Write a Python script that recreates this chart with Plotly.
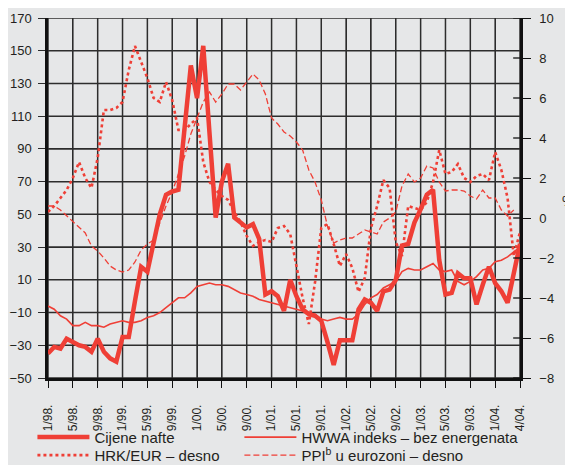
import plotly.graph_objects as go

# month index 0 = 1/98 ... 76 = 4/04 (as laid out on the axis)
months = list(range(77))

tick_vals = list(range(0, 77, 4))
tick_text = ["1/98.", "5/98.", "9/98.", "1/99.", "5/99.", "9/99.", "1/00.", "5/00.", "9/00.",
             "1/01.", "5/01.", "9/01.", "1/02.", "5/02.", "9/02.", "1/03.", "5/03.", "9/03.",
             "1/04.", "4/04."]

cijene_nafte = [-35, -31, -32, -26, -28, -30, -31, -34, -26, -34, -38, -40, -25, -25, -3, 18,
                15, 32, 50, 62, 64, 65, 100, 141, 121, 153, 100, 48, 70, 81, 48, 45,
                42, 44, 35, 1, 3, 0, -9, 10, 0, -8, -11, -12, -15, -28, -42, -27,
                -27, -27, -8, -2, -4, -9, 3, 4, 10, 31, 32, 45, 53, 62, 65, 22,
                1, 2, 14, 11, 11, -5, 7, 18, 8, 3, -4, 15, 32]

hwwa = [-6, -8, -12, -14, -18, -18, -16, -18, -18, -19, -17, -16, -15, -16, -16, -15,
        -13, -12, -10, -7, -4, -1, -1, 2, 6, 7, 8, 7, 7, 6, 4, 2,
        1, 0, -2, -3, -4, -5, -6, -7, -8, -9, -10, -11, -14, -15, -14, -13,
        -14, -14, -11, -5, -1, 1, 5, 7, 9, 15, 17, 16, 16, 18, 20, 16,
        15, 16, 9, 7, 9, 12, 16, 17, 21, 22, 24, 27, 30]

hrk_eur = [0.3, 0.6, 1.0, 1.4, 2.0, 2.8, 2.0, 1.5, 3.0, 5.4, 5.4, 5.5, 5.8, 7.4, 8.6, 7.8,
           7.0, 6.0, 5.8, 6.8, 5.9, 4.4, 4.4, 4.7, 5.0, 2.8, 1.8, 1.4, 1.1, 0.9, 0.3, -0.2,
           -0.9, -1.4, -1.2, -1.1, -1.2, -0.5, -0.4, -0.8, -2.4, -4.0, -5.3, -3.2, -0.5, -0.3, -1.3, -2.4,
           -1.8, -2.5, -3.7, -3.0, -0.5, 0.6, 1.9, 1.5, -1.2, -1.9, 0.6, 0.5, 0.4, 0.8, 1.8, 3.4,
           2.2, 2.3, 2.7, 2.0, 1.8, 2.1, 2.2, 1.9, 3.3, 2.4, 1.0, -1.9, -0.7]

ppi = [0.6, 0.6, 0.4, 0.1, -0.2, -0.5, -0.75, -1.4, -1.65, -2.0, -2.4, -2.6, -2.7, -2.6, -2.2, -1.6,
       -1.3, -1.1, -0.2, 0.6, 1.3, 2.2, 3.1, 4.2, 5.0, 5.8, 6.3, 5.8, 6.2, 6.7, 6.7, 6.4,
       6.8, 7.2, 6.9, 6.2, 5.0, 4.7, 4.3, 4.1, 3.8, 3.4, 2.4, 1.8, 0.9, -0.4, -1.25, -1.1,
       -1.0, -1.0, -0.8, -0.6, -0.7, -0.8, -0.2, 0.0, 0.3, 1.6, 2.2, 1.8, 2.0, 2.6, 2.5, 1.8,
       1.35, 1.4, 1.4, 1.35, 1.1, 0.95, 1.4, 1.0, 1.0, 0.4, 0.1, 0.4, None]

left_ticks = list(range(-50, 171, 20))
right_ticks = list(range(-8, 11, 2))

RED = "#ef3f36"
BG = "#e6e7e8"
GRID = "rgb(45,45,45)"
TXT = "#231f20"
FONT = "Liberation Sans, Arial, sans-serif"

x_lo, x_hi = 0, 76
y_lo, y_hi = -50, 170
y2_lo, y2_hi = -8, 10

fig = go.Figure()

# grid lines, one trace per line, built from the tick lists (underneath the data)
for v in tick_vals:
    fig.add_trace(go.Scatter(x=[v, v], y=[y_lo, y_hi], mode="lines",
                             line=dict(color=GRID, width=1.5), hoverinfo="none",
                             showlegend=False, yaxis="y"))
for v in left_ticks:
    fig.add_trace(go.Scatter(x=[x_lo, x_hi], y=[v, v], mode="lines",
                             line=dict(color=GRID, width=1.5), hoverinfo="none",
                             showlegend=False, yaxis="y"))
# inner halves of the crossing tick marks on the right axis
for v in right_ticks:
    fig.add_trace(go.Scatter(x=[x_hi - 1.1, x_hi], y=[v, v], mode="lines",
                             line=dict(color="rgb(20,20,20)", width=1.3), hoverinfo="none",
                             showlegend=False, yaxis="y2"))

fig.add_trace(go.Scatter(x=months, y=hwwa, name="HWWA indeks – bez energenata", mode="lines",
                         line=dict(color=RED, width=1.6), yaxis="y", legend="legend2"))
fig.add_trace(go.Scatter(x=months, y=cijene_nafte, name="Cijene nafte", mode="lines",
                         line=dict(color=RED, width=4.5), yaxis="y", legend="legend"))
fig.add_trace(go.Scatter(x=months, y=hrk_eur, name="HRK/EUR – desno", mode="lines",
                         line=dict(color=RED, width=2.6, dash="dot"), yaxis="y2", legend="legend3"))
fig.add_trace(go.Scatter(x=months, y=ppi, name="PPI<sup>b</sup> u eurozoni – desno", mode="lines",
                         line=dict(color=RED, width=1.3, dash="6px,3px"), yaxis="y2", legend="legend4"))

leg_common = dict(orientation="h", xanchor="left", yanchor="top", itemwidth=52,
                  font=dict(size=15, color=TXT), bgcolor="rgba(0,0,0,0)")

fig.update_layout(
    template="none",
    width=573, height=465,
    margin=dict(l=39.7, r=61.3, t=10.3, b=94.7, autoexpand=False),
    paper_bgcolor=BG, plot_bgcolor=BG,
    font=dict(family=FONT, color=TXT, size=13),
    showlegend=True,
    legend=dict(x=-0.033, y=-0.119, **leg_common),
    legend2=dict(x=0.4055, y=-0.119, **leg_common),
    legend3=dict(x=-0.033, y=-0.169, **leg_common),
    legend4=dict(x=0.4055, y=-0.169, **leg_common),
    xaxis=dict(range=[x_lo, x_hi], tickmode="array", tickvals=tick_vals, ticktext=tick_text,
               tickangle=-90, tickfont=dict(size=12), ticks="outside", ticklen=7,
               tickcolor="#111111", showgrid=True, gridcolor=GRID, gridwidth=1,
               showline=True, linecolor="#111111", linewidth=2.5, zeroline=False,
               automargin=False, ticklabelstandoff=12),
    yaxis=dict(range=[y_lo, y_hi], tickmode="array", tickvals=left_ticks, ticks="outside",
               ticklen=7, tickcolor=GRID, showgrid=True, gridcolor=GRID, gridwidth=1,
               showline=True, linecolor="#111111", linewidth=2.5, zeroline=False,
               automargin=False, tickfont=dict(size=13), ticklabelstandoff=4),
    yaxis2=dict(range=[y2_lo, y2_hi], overlaying="y", side="right", tickmode="array",
                tickvals=right_ticks, ticks="outside", ticklen=8, tickcolor="#111111",
                showgrid=False, showline=True, linecolor="#111111", linewidth=2.5,
                zeroline=False, automargin=False, tickfont=dict(size=13), ticklabelstandoff=6),
    annotations=[
        dict(text="godišnja stopa promjene", xref="paper", yref="paper", x=0.44, y=1.048,
             xanchor="center", yanchor="bottom", showarrow=False, font=dict(size=14, color=TXT)),
        dict(text="%", xref="paper", yref="paper", x=1.102, y=0.493, xanchor="center",
             yanchor="middle", showarrow=False, font=dict(size=14, color=TXT)),
    ],
)

fig.write_html("out.html")
